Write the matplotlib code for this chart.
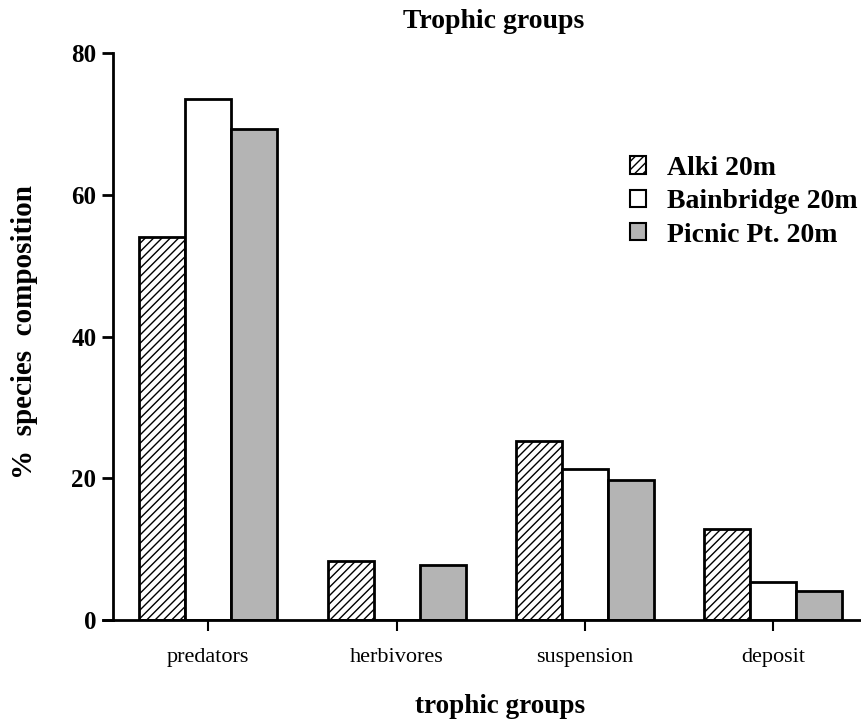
import matplotlib
matplotlib.use("Agg")
import matplotlib.pyplot as plt
import numpy as np

# data
groups = ["predators", "herbivores", "suspension", "deposit"]
sites = ["Alki 20m", "Bainbridge 20m", "Picnic Pt. 20m"]
alki = [54.0, 8.3, 25.3, 12.9]
bainbridge = [73.5, 0.0, 21.3, 5.4]
picnic = [69.3, 7.8, 19.7, 4.05]

plt.rcParams['font.family'] = ['Liberation Serif', 'DejaVu Serif']
plt.rcParams['hatch.linewidth'] = 1.0

fig = plt.figure(figsize=(8.62, 7.25), dpi=100)
ax = fig.add_axes([0.1311, 0.1448, 0.8689, 0.7817])

x = np.arange(len(groups))
w = 0.244
styles = [
    dict(facecolor="white", hatch="////"),
    dict(facecolor="white"),
    dict(facecolor="#b4b4b4"),
]
for i, (vals, st) in enumerate(zip([alki, bainbridge, picnic], styles)):
    ax.bar(x + (i - 1) * w, vals, w, edgecolor="black", linewidth=2,
           label=sites[i], zorder=2, **st)

ax.set_xlim(-0.505, 3.47)
ax.set_ylim(0, 80)
ax.set_yticks([0, 20, 40, 60, 80])
ax.set_xticks(x)
ax.set_xticklabels(groups, fontsize=16)
for lab in ax.get_yticklabels():
    lab.set_fontweight("bold")
    lab.set_fontsize(18)
ax.tick_params(axis="y", direction="out", length=8, width=2, pad=4)
ax.tick_params(axis="x", direction="out", length=8, width=1.5, pad=12)

for s in ["top", "right"]:
    ax.spines[s].set_visible(False)
ax.spines["left"].set_linewidth(2)
ax.spines["bottom"].set_linewidth(2)
# bottom line runs a little left of the y axis
ax.plot([-0.013, 0], [0, 0], transform=ax.transAxes, color="black",
        lw=2, clip_on=False)

leg = ax.legend(loc="upper left", bbox_to_anchor=(0.657, 0.863), frameon=False,
                prop=dict(weight="bold", size=20), handlelength=0.58,
                handleheight=0.58, handletextpad=0.75, labelspacing=0.3)
for h in leg.legend_handles:
    h.set_linewidth(1.5)

fig.text(0.573, 0.971, "Trophic groups", ha="center", va="center",
         fontsize=20, fontweight="bold")
fig.text(0.58, 0.026, "trophic groups", ha="center", va="center",
         fontsize=19.5, fontweight="bold")
fig.text(0.029, 1 - 332 / 725, "%  species  composition", ha="center",
         va="center", rotation=90, fontsize=21, fontweight="bold")

fig.savefig("out.png", dpi=100)
